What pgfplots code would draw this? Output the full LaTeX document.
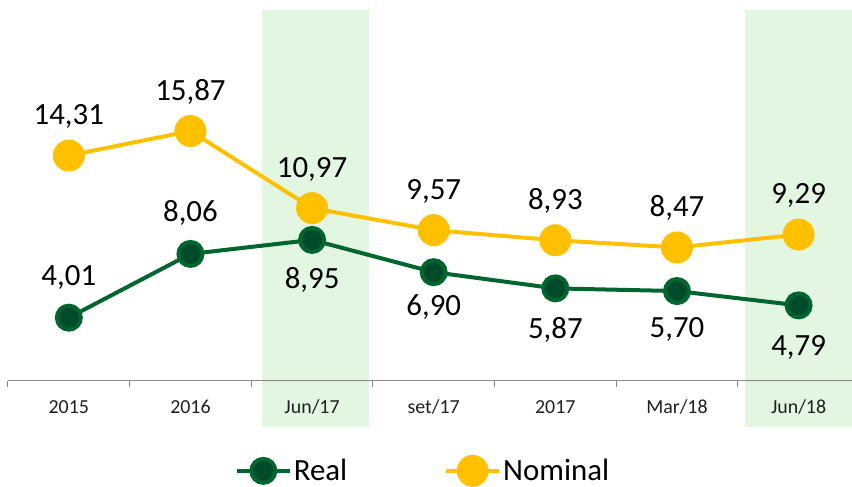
\documentclass[border=0pt]{standalone}
\usepackage{pgfplots}
\pgfplotsset{compat=1.18}
\usepackage{pgfplotstable}
\usepackage{fontspec}
\setmainfont{Carlito}
\definecolor{nomc}{HTML}{FFC000}
\definecolor{realline}{HTML}{00652E}
\definecolor{realfill}{HTML}{004B2A}
\definecolor{bandc}{HTML}{E2F6E2}
\definecolor{axc}{HTML}{898989}

\pgfplotstableread{
x y lab off
0 14.31 14,31 31
1 15.87 15,87 31
2 10.97 10,97 31
3 9.57 9,57 31
4 8.93 8,93 31
5 8.47 8,47 31
6 9.29 9,29 31
}\nominal
\pgfplotstableread{
x y lab off
0 4.01 4,01 32
1 8.06 8,06 32
2 8.95 8,95 -49
3 6.90 6,90 -43
4 5.87 5,87 -50
5 5.70 5,70 -46
6 4.79 4,79 -50
}\realt

\begin{document}
\begin{tikzpicture}
\begin{axis}[
  at={(8bp,104bp)}, anchor=south west,
  scale only axis, width=844bp, height=371bp,
  xmin=-0.5, xmax=6.435, ymin=0, ymax=23.56,
  clip=false, set layers,
  axis y line=none, axis x line*=bottom,
  x axis line style={axc, line width=1bp, -},
  xtick={0,...,6},
  xticklabels={2015,2016,Jun/17,set/17,2017,Mar/18,Jun/18},
  major tick length=0pt,
  extra x ticks={-0.5,0.5,1.5,2.5,3.5,4.5,5.5},
  extra x tick labels={},
  extra x tick style={major tick length=6bp, tick align=outside, tick style={axc, line width=1bp}},
  xticklabel style={font=\fontsize{20}{24}\selectfont, text=black!88, anchor=base, yshift=-33bp},
  legend style={at={(0.492,-0.243)}, anchor=center, draw=none, fill=none,
    font=\fontsize{31}{34}\selectfont,
    /tikz/every even column/.append style={column sep=95bp}},
  legend columns=2,
  legend image code/.code={\draw[mark repeat=2, mark phase=2, #1] plot coordinates {(0bp,0bp) (26.5bp,0bp) (53bp,0bp)};},
  nodes near coords,
  point meta=explicit symbolic,
  visualization depends on={\thisrow{off} \as \off},
  nodes near coords style={anchor=base, yshift={\off*1bp}, font=\fontsize{31}{36}\selectfont, text=black},
]
\begin{pgfonlayer}{axis background}
\fill[bandc] (axis cs:1.587,-2.92) rectangle (axis cs:2.466,23.56);
\fill[bandc] (axis cs:5.556,-2.92) rectangle (axis cs:6.435,23.56);
\end{pgfonlayer}
\addplot[realline, line width=4bp, mark=*, mark size=12bp,
  mark options={fill=realfill, draw=realline, line width=4bp}]
  table[x=x, y=y, meta=lab]{\realt};
\addplot[nomc, line width=4bp, mark=*, mark size=14bp,
  mark options={fill=nomc, draw=none}]
  table[x=x, y=y, meta=lab]{\nominal};
\legend{Real, Nominal}
\end{axis}
\path (0,0) rectangle (852bp,485bp);
\end{tikzpicture}
\end{document}
